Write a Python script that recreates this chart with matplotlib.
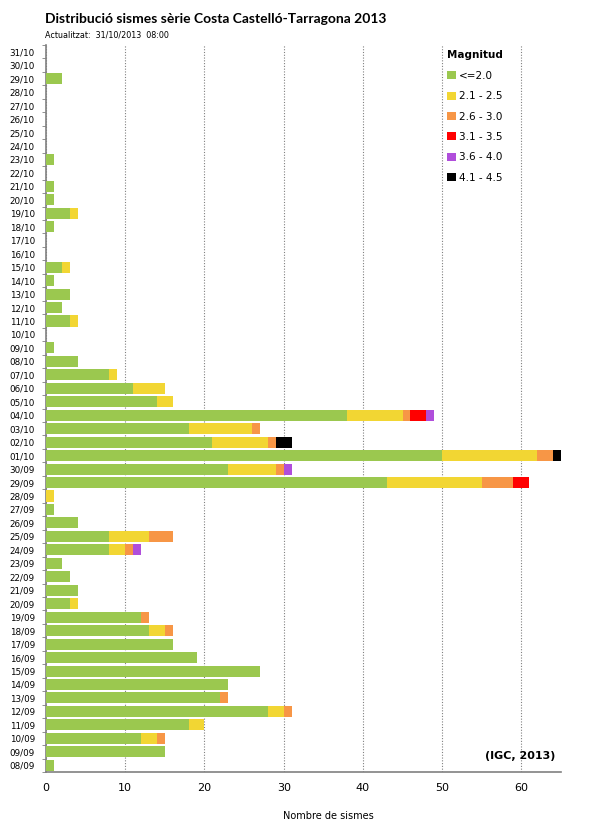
import matplotlib
matplotlib.use('Agg')
import matplotlib.pyplot as plt
import numpy as np
from matplotlib.patches import Patch

# dies de la serie, de baix a dalt (08/09 -> 31/10)
dates = ['%02d/09' % d for d in range(8, 31)] + ['%02d/10' % d for d in range(1, 32)]

# nombre de sismes per magnitud i dia
m_le20 = [1, 15, 12, 18, 28, 22, 23, 27, 19, 16, 13, 12, 3, 4, 3, 2, 8, 8, 4, 1, 0, 43, 23,
          50, 21, 18, 38, 14, 11, 8, 4, 1, 0, 3, 2, 3, 1, 2, 0, 0, 1, 3, 1, 1, 0, 1,
          0, 0, 0, 0, 0, 2, 0, 0]
m_21_25 = [0, 0, 2, 2, 2, 0, 0, 0, 0, 0, 2, 0, 1, 0, 0, 0, 2, 5, 0, 0, 1, 12, 6,
           12, 7, 8, 7, 2, 4, 1, 0, 0, 0, 1, 0, 0, 0, 1, 0, 0, 0, 1, 0, 0, 0, 0,
           0, 0, 0, 0, 0, 0, 0, 0]
m_26_30 = [0, 0, 1, 0, 1, 1, 0, 0, 0, 0, 1, 1, 0, 0, 0, 0, 1, 3, 0, 0, 0, 4, 1,
           2, 1, 1, 1, 0, 0, 0, 0, 0, 0, 0, 0, 0, 0, 0, 0, 0, 0, 0, 0, 0, 0, 0,
           0, 0, 0, 0, 0, 0, 0, 0]
m_31_35 = [0, 0, 0, 0, 0, 0, 0, 0, 0, 0, 0, 0, 0, 0, 0, 0, 0, 0, 0, 0, 0, 2, 0,
           0, 0, 0, 2, 0, 0, 0, 0, 0, 0, 0, 0, 0, 0, 0, 0, 0, 0, 0, 0, 0, 0, 0,
           0, 0, 0, 0, 0, 0, 0, 0]
m_36_40 = [0, 0, 0, 0, 0, 0, 0, 0, 0, 0, 0, 0, 0, 0, 0, 0, 1, 0, 0, 0, 0, 0, 1,
           0, 0, 0, 1, 0, 0, 0, 0, 0, 0, 0, 0, 0, 0, 0, 0, 0, 0, 0, 0, 0, 0, 0,
           0, 0, 0, 0, 0, 0, 0, 0]
m_41_45 = [0, 0, 0, 0, 0, 0, 0, 0, 0, 0, 0, 0, 0, 0, 0, 0, 0, 0, 0, 0, 0, 0, 0,
           1, 2, 0, 0, 0, 0, 0, 0, 0, 0, 0, 0, 0, 0, 0, 0, 0, 0, 0, 0, 0, 0, 0,
           0, 0, 0, 0, 0, 0, 0, 0]

labels = ['<=2.0', '2.1 - 2.5', '2.6 - 3.0', '3.1 - 3.5', '3.6 - 4.0', '4.1 - 4.5']
colors = ['#9BC84F', '#F2D633', '#F79646', '#FF0000', '#B04EDB', '#000000']
series = [m_le20, m_21_25, m_26_30, m_31_35, m_36_40, m_41_45]

plt.rcParams['font.family'] = ['DejaVu Sans']

fig = plt.figure(figsize=(5.92, 8.32), dpi=100)
ax = fig.add_axes([46 / 592, 1 - 772 / 832, 515 / 592, 727 / 832])

y = np.arange(len(dates))
left = np.zeros(len(dates))
for vals, col in zip(series, colors):
    vals = np.array(vals)
    ax.barh(y, vals, left=left, height=0.82, color=col, linewidth=0, zorder=3)
    left += vals

ax.set_xlim(0, 65)
ax.set_ylim(-0.5, len(dates) - 0.5)
ax.set_xticks(np.arange(0, 61, 10))
ax.set_yticks(y)
ax.set_yticklabels(dates, fontsize=6.3)
ax.set_yticks(np.arange(-0.5, len(dates), 1), minor=True)
ax.tick_params(axis='y', which='major', length=0, pad=8)
ax.tick_params(axis='y', which='minor', length=3, color='#808080', direction='out')
ax.tick_params(axis='x', length=0, labelsize=8, pad=8)

ax.grid(axis='x', linestyle=(0, (1, 1.5)), color='#808080', linewidth=0.8, zorder=0)
for s in ['top', 'right']:
    ax.spines[s].set_visible(False)
for s in ['left', 'bottom']:
    ax.spines[s].set_color('#808080')
    ax.spines[s].set_linewidth(1.2)

ax.set_xlabel('Nombre de sismes', fontsize=7)
ax.xaxis.set_label_coords(0.548, -39 / 727)

fig.text(45 / 592, 1 - 19 / 832, 'Distribució sismes sèrie Costa Castelló-Tarragona 2013',
         fontsize=10, fontweight='bold', va='center', ha='left', family=['Lato', 'DejaVu Sans'])
fig.text(45 / 592, 1 - 35 / 832, 'Actualitzat:  31/10/2013  08:00',
         fontsize=5.8, va='center', ha='left')
fig.text(555 / 592, 1 - 756 / 832, '(IGC, 2013)', fontsize=8,
         fontweight='bold', ha='right', va='center')

handles = [Patch(facecolor=c, edgecolor='none') for c in colors]
leg = ax.legend(handles, labels, title='Magnitud', loc='upper left',
                bbox_to_anchor=(438 / 592, 1 - 41 / 832), bbox_transform=fig.transFigure,
                frameon=False, fontsize=7.5, title_fontsize=7.5,
                handlelength=0.8, handleheight=0.8, handletextpad=0.3,
                labelspacing=1.0, alignment='left')
leg.get_title().set_fontweight('bold')

fig.savefig('out.png', dpi=100)
